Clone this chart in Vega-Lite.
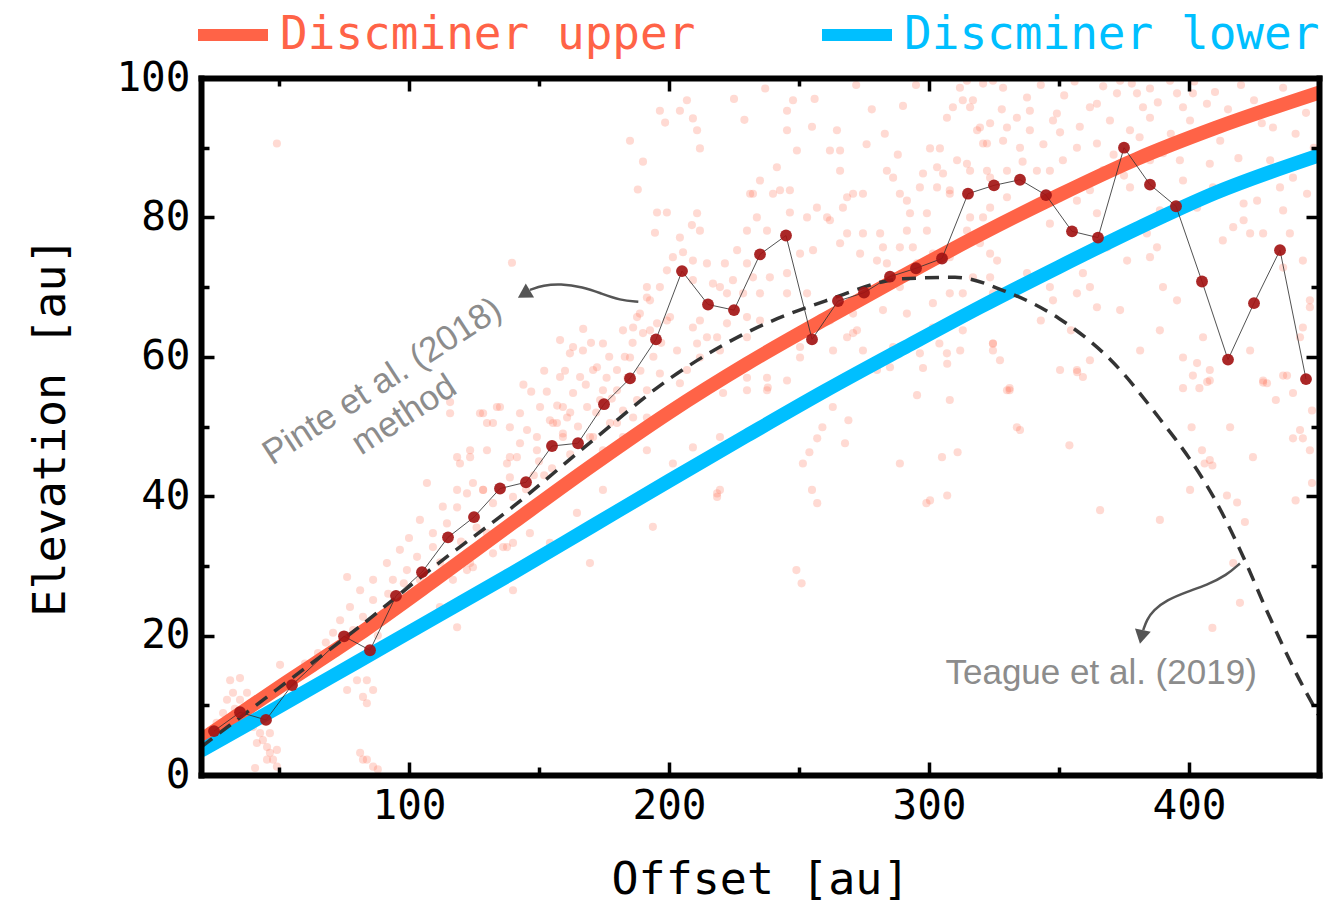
{
"$schema":"https://vega.github.io/schema/vega-lite/v6.json",
"width":1118,"height":697,
"autosize":{"type":"none"},
"padding":{"left":201,"top":78,"right":11,"bottom":131},
"background":"white",
"config":{"view":{"stroke":null},"axis":{"labelOverlap":false,"labelFlush":false,"labelBound":false,"grid":false}},
"datasets":{
"cloud":[
{"x":50.4,"y":15.8},{"x":35,"y":13.9},{"x":31.2,"y":13.6},{"x":32.3,"y":11.8},{"x":37.7,"y":11.8},{"x":30,"y":10.8},{"x":35,"y":10.8},{"x":38.8,"y":10.3},{"x":28.5,"y":8.9},{"x":40,"y":6.9},{"x":42.7,"y":6},{"x":43.8,"y":5},{"x":45.4,"y":4},{"x":46.5,"y":3.2},{"x":47.7,"y":2.2},{"x":45.4,"y":2.2},{"x":49.2,"y":1.2},{"x":41.5,"y":4.6},{"x":43.8,"y":7.9},{"x":49.2,"y":3.6},{"x":46.5,"y":6},{"x":40.8,"y":1.0},{"x":33,"y":9.5},{"x":26,"y":7.5},{"x":38,"y":8.5},
{"x":80,"y":13.6},{"x":83.8,"y":13.6},{"x":76.2,"y":12.2},{"x":86.2,"y":12.2},{"x":82.3,"y":11.2},{"x":83.8,"y":10.3},{"x":81.2,"y":3.2},{"x":83.8,"y":2.2},{"x":86.2,"y":1.2},{"x":82.3,"y":2.2},{"x":88,"y":0.8},
{"x":77.3,"y":24.1},{"x":82.3,"y":22.7},{"x":73.5,"y":22.2},{"x":70.8,"y":20.4},{"x":78.5,"y":20.8},{"x":76.2,"y":28.4},{"x":81.2,"y":26.5},{"x":86.2,"y":25.1},{"x":86.2,"y":28},{"x":90,"y":23.2},{"x":96.5,"y":24.1},{"x":101.5,"y":25.5},{"x":93.8,"y":28},{"x":91.5,"y":30.4},{"x":96.5,"y":32.3},{"x":99.2,"y":29.4},{"x":103.1,"y":31.3},{"x":104.2,"y":28},{"x":109.2,"y":28.4},{"x":109.2,"y":32.7},{"x":111.9,"y":24.1},{"x":116.9,"y":28},{"x":118.5,"y":21.2},{"x":122.3,"y":29.4},{"x":124.6,"y":29.8},{"x":104.2,"y":36.6},{"x":109.2,"y":34.7},{"x":114.6,"y":36.1},{"x":118.5,"y":38.4},{"x":122.3,"y":40.4},{"x":128.5,"y":40.9},{"x":106.9,"y":41.9},{"x":130,"y":34.7},{"x":132.3,"y":31.8},{"x":137.7,"y":32.7},{"x":140,"y":33.3},{"x":137.7,"y":29},{"x":140,"y":26.5},{"x":65,"y":17.5},{"x":60,"y":16},{"x":68,"y":19},{"x":72,"y":17.5},{"x":88,"y":20},{"x":92,"y":26},{"x":98,"y":27.5},{"x":100,"y":34},{"x":112,"y":30.5},{"x":120,"y":33.5},{"x":126,"y":35.5},{"x":113,"y":38.5},
{"x":115.8,"y":53.5},{"x":115.8,"y":51.9},{"x":118.5,"y":45.6},{"x":127.3,"y":51.9},{"x":133.8,"y":52.8},{"x":130,"y":50.5},{"x":138.8,"y":49.9},{"x":142.7,"y":51.9},{"x":150.4,"y":52.8},{"x":155.4,"y":50.5},{"x":159.2,"y":52.8},{"x":158.1,"y":62.4},{"x":163.1,"y":61.4},{"x":166.9,"y":60.9},{"x":158.1,"y":57.1},{"x":165.8,"y":57.1},{"x":172.3,"y":58.5},{"x":174.6,"y":55.2},{"x":180,"y":58.1},{"x":185,"y":59.9},{"x":187.7,"y":65.7},{"x":190,"y":63.4},{"x":149.2,"y":48.5},{"x":159.2,"y":48.5},{"x":169.6,"y":48.5},{"x":174.6,"y":46.6},{"x":177.3,"y":50.5},{"x":182.3,"y":52.3},{"x":182.3,"y":48.5},{"x":141.5,"y":45.6},{"x":123.5,"y":46.6},{"x":118.5,"y":40.9},{"x":128.5,"y":40.9},{"x":137.7,"y":44.7},
{"x":139.6,"y":73.5},{"x":161.9,"y":60.5},{"x":174.6,"y":61.9},{"x":182.3,"y":63.8},{"x":188.8,"y":66.2},{"x":191.5,"y":68.5},{"x":196.5,"y":70},{"x":199.2,"y":72.4},{"x":192.7,"y":63.8},{"x":195.4,"y":64.8},{"x":200.4,"y":65.7},{"x":209.2,"y":71},{"x":214.6,"y":73.4},{"x":219.6,"y":70},{"x":224.6,"y":71},{"x":230,"y":73.4},{"x":235,"y":69.1},{"x":230,"y":65.7},{"x":209.2,"y":64.2},{"x":214.6,"y":62.8},{"x":219.6,"y":60.9},{"x":211.9,"y":59.9},{"x":206.9,"y":58.1},{"x":204.2,"y":56.2},{"x":196.5,"y":57.6},{"x":191.5,"y":55.2},{"x":187.7,"y":53.8},{"x":180,"y":55.2},{"x":170.8,"y":58.1},{"x":173.5,"y":53.8},{"x":168.5,"y":52.8},{"x":163.1,"y":54.8},{"x":160.8,"y":51.3},{"x":154.2,"y":50.9},{"x":135,"y":52.8},{"x":128.5,"y":51.9},{"x":132.3,"y":50.5},{"x":145.4,"y":49.5},{"x":156.9,"y":50.5},{"x":159.2,"y":49},{"x":142.7,"y":47.6},{"x":138.8,"y":45.6},{"x":130,"y":46.6},{"x":123.5,"y":45.6},{"x":119.6,"y":44.7},{"x":124.6,"y":41.9},{"x":132.3,"y":39},{"x":140,"y":39.9},{"x":138.8,"y":42.7},{"x":149.2,"y":46.6},{"x":170.8,"y":48.5},{"x":180,"y":50.5},{"x":186.2,"y":51.3},{"x":191.5,"y":51.3},{"x":178.5,"y":46.6},{"x":191.5,"y":46.6},{"x":201.5,"y":44.7},{"x":209.2,"y":47},{"x":219.6,"y":48.5},{"x":230,"y":55.2},{"x":237.7,"y":57},{"x":237.7,"y":55.2},{"x":219.6,"y":40.9},{"x":218.5,"y":39.9},{"x":193.8,"y":35.6},{"x":174.6,"y":40.9},{"x":164.6,"y":37.6},{"x":146.5,"y":34.7},{"x":136.2,"y":32.7},{"x":123.5,"y":30.4},{"x":169.6,"y":30.4},{"x":154.2,"y":33.3},{"x":201.5,"y":74.3},{"x":49.2,"y":90.6},
{"x":150,"y":45},{"x":155,"y":44},{"x":162,"y":46},{"x":165,"y":50},{"x":168,"y":56},{"x":172,"y":52},{"x":176,"y":57},{"x":178,"y":54},{"x":184,"y":57},{"x":186,"y":62},{"x":189,"y":58},{"x":194,"y":60},{"x":197,"y":62},{"x":183,"y":60},{"x":177,"y":60},{"x":170,"y":62},{"x":167,"y":64},{"x":160,"y":58},{"x":153,"y":55},{"x":147,"y":55},{"x":144,"y":56},{"x":152,"y":58},{"x":157,"y":53},{"x":162,"y":52},{"x":148,"y":43},{"x":145,"y":41},{"x":152,"y":43},
{"x":196.5,"y":95.3},{"x":198.5,"y":93.6},{"x":204.2,"y":95.3},{"x":206.9,"y":96.8},{"x":209.2,"y":94.2},{"x":210.8,"y":92.5},{"x":211.9,"y":89.9},{"x":195.4,"y":80.7},{"x":199.2,"y":80.7},{"x":194.6,"y":77.8},{"x":204.2,"y":77.1},{"x":208.8,"y":78.9},{"x":210.8,"y":80.6},{"x":211.9,"y":78.1},{"x":205.4,"y":75},{"x":191.5,"y":70},{"x":192.7,"y":68.1},{"x":186.2,"y":64.2},{"x":209.2,"y":73.8},{"x":216.9,"y":70.5},{"x":221.5,"y":73.4},{"x":222.3,"y":69.1},{"x":226.2,"y":75.3},{"x":230,"y":78.1},{"x":233.8,"y":80},{"x":237.7,"y":78.1},{"x":240,"y":83.4},{"x":242.7,"y":83.9},{"x":235,"y":85.3},{"x":232.3,"y":83.4},{"x":241.5,"y":87.2},{"x":246.5,"y":83.9},{"x":246.5,"y":80.7},{"x":250.4,"y":74.8},{"x":255.4,"y":75.3},{"x":253.1,"y":80},{"x":256.9,"y":81.4},{"x":261.9,"y":79.6},{"x":266.9,"y":81.4},{"x":268.5,"y":77.7},{"x":274.6,"y":77.7},{"x":273.5,"y":74.8},{"x":281.2,"y":77.7},{"x":282.3,"y":75.7},{"x":280,"y":73.8},{"x":283.8,"y":86.7},{"x":286.2,"y":85.7},{"x":288.8,"y":83.4},{"x":291.5,"y":82.4},{"x":292.7,"y":80.6},{"x":291.5,"y":78.1},{"x":299.2,"y":80.6},{"x":299.2,"y":78.1},{"x":296.5,"y":84.3},{"x":297.7,"y":86.3},{"x":303.1,"y":84.3},{"x":303.1,"y":87.2},{"x":305.4,"y":86.3},{"x":308,"y":83.4},{"x":300.4,"y":89.9},{"x":304.2,"y":89.9},{"x":306.9,"y":94.3},{"x":309.2,"y":95.8},{"x":311.9,"y":98.6},{"x":314.6,"y":99.6},{"x":316.9,"y":96.8},{"x":319.6,"y":92.9},{"x":322.3,"y":90.6},{"x":322.3,"y":86.7},{"x":314.6,"y":87.7},{"x":265.8,"y":86.7},{"x":265.8,"y":89.6},{"x":261.9,"y":89.6},{"x":264.6,"y":92.5},{"x":249.2,"y":89.6},{"x":247.7,"y":96.8},{"x":245.4,"y":95.3},{"x":245.4,"y":92.5},{"x":231.2,"y":83.4},{"x":260.8,"y":80},{"x":268.5,"y":82.9},{"x":270.8,"y":83.4},{"x":274.6,"y":83.4},{"x":265.8,"y":76.3},{"x":283.8,"y":73.4},{"x":288.8,"y":75.7},{"x":293.8,"y":75.7},{"x":295.4,"y":73.4},{"x":301.5,"y":74.8},{"x":308,"y":74.3},{"x":311.9,"y":75.7},{"x":314.6,"y":78.1},{"x":320.8,"y":80},{"x":323.5,"y":74.8},{"x":316.9,"y":71.4},{"x":324.6,"y":69.1},{"x":308,"y":69.1},{"x":301.5,"y":67.7},{"x":301.5,"y":64.2},{"x":291.5,"y":66.2},{"x":288.8,"y":70},{"x":282.3,"y":66.7},{"x":270.8,"y":66.2},{"x":270.8,"y":63.4},{"x":261.9,"y":65.2},{"x":253.1,"y":69.1},{"x":245.4,"y":69.1},{"x":245.4,"y":72},{"x":238.8,"y":71.4},{"x":232.3,"y":71.4},{"x":228.5,"y":69.1},{"x":235,"y":65.2},{"x":230,"y":62.8},{"x":222.3,"y":64.8},{"x":218.5,"y":62.8},{"x":211.9,"y":65.2},{"x":210.8,"y":61.9},{"x":203.1,"y":60.9},{"x":199.2,"y":65.2},{"x":242.7,"y":61.4},{"x":250.4,"y":61.4},{"x":263.1,"y":60.9},{"x":286.2,"y":61.4},{"x":296.5,"y":60.5},{"x":306.9,"y":60.5},{"x":324.6,"y":60.9},{"x":319.6,"y":76.3},
{"x":249,"y":29.4},{"x":251,"y":27.5},{"x":218.5,"y":40.4},{"x":255,"y":40.9},{"x":257,"y":39},{"x":251.5,"y":44.7},{"x":254,"y":46.3},{"x":257,"y":48.3},{"x":259,"y":49.9},{"x":263,"y":52.8},{"x":269,"y":50.9},{"x":267.7,"y":47.6},{"x":288.8,"y":44.7},{"x":299,"y":39},{"x":307,"y":40.1},{"x":305,"y":45.6},{"x":311,"y":46.3},{"x":308,"y":53.8},{"x":295.4,"y":54.5},{"x":330,"y":55.2},{"x":333.8,"y":49.9},{"x":324.6,"y":61.9},{"x":312,"y":60.9},{"x":307,"y":59},{"x":297.7,"y":58.4},{"x":304,"y":61.9},{"x":285,"y":58.5},{"x":280,"y":58.1},{"x":274.6,"y":60.9},{"x":272.3,"y":63.8},{"x":268.5,"y":62.8},{"x":250.4,"y":59.9},{"x":245.4,"y":56.6},{"x":238,"y":55.6},{"x":230,"y":57},{"x":220.8,"y":54.8},
{"x":313,"y":96.8},{"x":315.8,"y":95.8},{"x":320.8,"y":99.2},{"x":324.6,"y":99.6},{"x":328.5,"y":98.6},{"x":337.7,"y":97.2},{"x":338.8,"y":95.3},{"x":333.8,"y":94.3},{"x":330,"y":92.9},{"x":323.5,"y":93.5},{"x":318.5,"y":92.5},{"x":320.8,"y":90.6},{"x":328.5,"y":91},{"x":335,"y":90},{"x":338.8,"y":92.5},{"x":347.7,"y":93.9},{"x":350.4,"y":92.2},{"x":349.2,"y":94.9},{"x":361.9,"y":95.8},{"x":364.6,"y":96.3},{"x":372.3,"y":97.8},{"x":373.5,"y":99.6},{"x":380,"y":97.8},{"x":382.3,"y":95.8},{"x":385,"y":94.3},{"x":392.7,"y":99.6},{"x":395.4,"y":97.8},{"x":397.7,"y":95.8},{"x":400.4,"y":93.9},{"x":406.9,"y":96.3},{"x":401.5,"y":97.8},{"x":377.3,"y":92.5},{"x":369.6,"y":93.9},{"x":364.6,"y":90.6},{"x":356.9,"y":90},{"x":351.5,"y":88.2},{"x":346.5,"y":86.7},{"x":341.5,"y":86.7},{"x":330,"y":86.7},{"x":323.5,"y":85.7},{"x":315.8,"y":86.7},{"x":310.8,"y":88.2},{"x":308,"y":83.9},{"x":315.8,"y":80},{"x":323.5,"y":81.4},{"x":330,"y":82.9},{"x":333.8,"y":80},{"x":341.5,"y":81.4},{"x":346.5,"y":79.1},{"x":356.9,"y":82.4},{"x":361.9,"y":83.9},{"x":364.6,"y":80.6},{"x":377.3,"y":84.3},{"x":385,"y":88.2},{"x":390,"y":89.2},{"x":396.5,"y":88.2},{"x":397.7,"y":85.3},{"x":408,"y":87.7},{"x":409.2,"y":84.3},{"x":403.1,"y":81.4},{"x":388.8,"y":81},{"x":383.8,"y":77.7},{"x":387.7,"y":75.7},{"x":385,"y":74.3},{"x":376.2,"y":73.8},{"x":368.5,"y":75.7},{"x":359.2,"y":72},{"x":361.9,"y":70},{"x":356.9,"y":69.1},{"x":364.6,"y":67.1},{"x":346.5,"y":70},{"x":347.7,"y":68.1},{"x":337.7,"y":72},{"x":326.2,"y":73.8},{"x":323.5,"y":71.4},{"x":313,"y":69.1},{"x":313,"y":63.8},{"x":324.6,"y":61.9},{"x":331,"y":55.2},{"x":356.9,"y":58.1},{"x":359.2,"y":57.1},{"x":390,"y":70},{"x":395.4,"y":68.1},{"x":413,"y":76.7},{"x":417,"y":78.6},{"x":421,"y":79.6},{"x":423.5,"y":77.7},{"x":428.5,"y":77.7},{"x":421,"y":82},{"x":426.2,"y":82.4},{"x":435,"y":84.3},{"x":438.8,"y":77.7},{"x":436.2,"y":72.8},{"x":446.5,"y":67.1},{"x":443.8,"y":64.2},{"x":442.7,"y":62.8},{"x":405.4,"y":62.8},{"x":403.1,"y":59.1},{"x":408,"y":56.6},{"x":428.5,"y":56.6},{"x":436.2,"y":57.3},{"x":443.8,"y":73.8},{"x":436.2,"y":81},{"x":445.4,"y":83.4},{"x":440,"y":85.7},{"x":431.2,"y":88.2},{"x":432.3,"y":92.9},{"x":436.2,"y":98.6},
{"x":331,"y":55.5},{"x":357,"y":57.8},{"x":397.7,"y":59.9},{"x":401.5,"y":57.3},{"x":407,"y":56.4},{"x":408,"y":58.1},{"x":404,"y":55.5},{"x":397.7,"y":55.5},{"x":401,"y":49.9},{"x":415.8,"y":49.9},{"x":405,"y":46.6},{"x":406,"y":44.7},{"x":409,"y":44.4},{"x":414.6,"y":40.1},{"x":418.5,"y":39.1},{"x":421.5,"y":36.3},{"x":417,"y":30.4},{"x":419.6,"y":24.7},{"x":409,"y":21.1},{"x":424.6,"y":45.6},{"x":430,"y":56.2},{"x":437.7,"y":57.3},{"x":440,"y":54.8},{"x":440,"y":48.3},{"x":443.8,"y":48.3},{"x":446.5,"y":46.6},{"x":447.3,"y":52.3},{"x":447.3,"y":41.9},{"x":428.5,"y":56.3},
{"x":335,"y":49.5},{"x":354,"y":47.3},{"x":365.8,"y":38},{"x":300.4,"y":39.4},{"x":388.8,"y":36.6},{"x":400.4,"y":40.9},{"x":408,"y":45.2},{"x":442.7,"y":49.5},{"x":441,"y":39.4},{"x":350.4,"y":58.1},{"x":361.9,"y":59.5},{"x":327.3,"y":59.5},{"x":343,"y":65.2},{"x":354.6,"y":63.8},{"x":381.2,"y":60.9},{"x":388.8,"y":63.8},{"x":373.5,"y":66.7},{"x":423.5,"y":60.9},{"x":446.5,"y":68.1},{"x":433.4,"y":53.8},
{"x":343,"y":99},{"x":352,"y":97.5},{"x":356,"y":99.5},{"x":367,"y":98.8},{"x":378,"y":99.2},{"x":385,"y":98.5},{"x":388,"y":96.5},{"x":402,"y":99.5},{"x":410,"y":98},{"x":415,"y":95.5},{"x":420,"y":99},{"x":425,"y":96.8},{"x":428,"y":93.5},{"x":412,"y":91},{"x":419,"y":88.5},{"x":445,"y":95},{"x":448,"y":90},{"x":441,"y":92},{"x":344,"y":90.5},{"x":358,"y":93},{"x":371,"y":89},{"x":381,"y":91.5},{"x":393,"y":92},{"x":375,"y":86},{"x":367,"y":86.8},{"x":336,"y":88},{"x":328,"y":95.5},
{"x":225,"y":97},{"x":229,"y":94},{"x":237,"y":98.5},{"x":256,"y":97},{"x":272,"y":99},{"x":278,"y":95.5},{"x":283,"y":92},{"x":290,"y":96},{"x":295,"y":99},{"x":276,"y":90.5},{"x":288,"y":89},{"x":255,"y":93},{"x":185,"y":91},{"x":190,"y":88},{"x":188,"y":84}
],
"models":[
{"x":20,"y":5.0,"s":"Discminer upper"},{"x":50,"y":12.6,"s":"Discminer upper"},{"x":80,"y":20.0,"s":"Discminer upper"},{"x":110,"y":28.0,"s":"Discminer upper"},{"x":140,"y":36.2,"s":"Discminer upper"},{"x":170,"y":44.3,"s":"Discminer upper"},{"x":200,"y":52.0,"s":"Discminer upper"},{"x":230,"y":59.0,"s":"Discminer upper"},{"x":260,"y":65.4,"s":"Discminer upper"},{"x":290,"y":71.6,"s":"Discminer upper"},{"x":320,"y":77.6,"s":"Discminer upper"},{"x":350,"y":83.2,"s":"Discminer upper"},{"x":380,"y":88.4,"s":"Discminer upper"},{"x":410,"y":92.8,"s":"Discminer upper"},{"x":450,"y":97.9,"s":"Discminer upper"},
{"x":20,"y":3.5,"s":"Discminer lower"},{"x":50,"y":9.8,"s":"Discminer lower"},{"x":80,"y":16.2,"s":"Discminer lower"},{"x":110,"y":22.6,"s":"Discminer lower"},{"x":140,"y":29.0,"s":"Discminer lower"},{"x":170,"y":35.6,"s":"Discminer lower"},{"x":200,"y":42.2,"s":"Discminer lower"},{"x":230,"y":48.7,"s":"Discminer lower"},{"x":260,"y":55.1,"s":"Discminer lower"},{"x":290,"y":61.2,"s":"Discminer lower"},{"x":320,"y":67.2,"s":"Discminer lower"},{"x":350,"y":72.9,"s":"Discminer lower"},{"x":380,"y":78.4,"s":"Discminer lower"},{"x":410,"y":83.5,"s":"Discminer lower"},{"x":450,"y":88.9,"s":"Discminer lower"}
],
"teague":[
{"x":20,"y":4.0},{"x":50,"y":12.5},{"x":80,"y":21.0},{"x":110,"y":30.0},{"x":140,"y":38.5},{"x":170,"y":47.8},{"x":200,"y":56.8},{"x":230,"y":63.5},{"x":260,"y":68.0},{"x":290,"y":71.2},{"x":310,"y":71.4},{"x":330,"y":69.3},{"x":350,"y":65.5},{"x":370,"y":59.5},{"x":390,"y":50.5},{"x":400,"y":45.5},{"x":410,"y":39.5},{"x":420,"y":32.0},{"x":430,"y":23.5},{"x":440,"y":15.5},{"x":450,"y":8.5}
],
"binned":[
{"x":25,"y":6.3},{"x":35,"y":9.0},{"x":45,"y":7.9},{"x":55,"y":12.9},{"x":75,"y":19.9},{"x":85,"y":17.9},{"x":95,"y":25.7},{"x":105,"y":29.1},{"x":115,"y":34.1},{"x":125,"y":37.0},{"x":135,"y":41.1},{"x":145,"y":42.0},{"x":155,"y":47.2},{"x":165,"y":47.6},{"x":175,"y":53.2},{"x":185,"y":56.9},{"x":195,"y":62.5},{"x":205,"y":72.3},{"x":215,"y":67.5},{"x":225,"y":66.7},{"x":235,"y":74.7},{"x":245,"y":77.4},{"x":255,"y":62.5},{"x":265,"y":68.0},{"x":275,"y":69.2},{"x":285,"y":71.5},{"x":295,"y":72.7},{"x":305,"y":74.1},{"x":315,"y":83.4},{"x":325,"y":84.6},{"x":335,"y":85.4},{"x":345,"y":83.2},{"x":355,"y":78.0},{"x":365,"y":77.1},{"x":375,"y":90.0},{"x":385,"y":84.7},{"x":395,"y":81.6},{"x":405,"y":70.8},{"x":415,"y":59.6},{"x":425,"y":67.7},{"x":435,"y":75.3},{"x":445,"y":56.8}
],
"arrows":[
{"a":1,"o":1,"x":188.2,"y":67.9},{"a":1,"o":2,"x":181.2,"y":68.1},{"a":1,"o":3,"x":173.5,"y":69.15},{"a":1,"o":4,"x":167.0,"y":70.0},{"a":1,"o":5,"x":158.1,"y":70.5},{"a":1,"o":6,"x":151.7,"y":70.25},{"a":1,"o":7,"x":146.5,"y":69.6},
{"a":2,"o":1,"x":419.6,"y":30.35},{"a":2,"o":2,"x":414.5,"y":28.67},{"a":2,"o":3,"x":406.8,"y":27.24},{"a":2,"o":4,"x":399.1,"y":26.28},{"a":2,"o":5,"x":391.4,"y":25.09},{"a":2,"o":6,"x":386.3,"y":23.66},{"a":2,"o":7,"x":383.7,"y":22.22},{"a":2,"o":8,"x":382.4,"y":20.79}
]
},
"layer":[
{"data":{"name":"cloud"},
 "mark":{"type":"point","filled":true,"color":"#FF6347","opacity":0.24,"size":66,"strokeWidth":0},
 "encoding":{
  "x":{"field":"x","type":"quantitative","scale":{"domain":[20,450],"nice":false,"zero":false},
   "axis":{"orient":"bottom","values":[100,200,300,400],"title":"Offset [au]","domain":true,"domainWidth":6,"domainColor":"black","domainCap":"square","ticks":true,"tickSize":-13,"tickWidth":3.5,"tickColor":"black","labelFont":"DejaVu Sans Mono","labelFontSize":41,"labelColor":"black","labelPadding":24,"titleFont":"DejaVu Sans Mono","titleFontSize":45,"titleFontWeight":"normal","titleColor":"black","titlePadding":31,"zindex":1}},
  "y":{"field":"y","type":"quantitative","scale":{"domain":[0,100],"nice":false,"zero":false},
   "axis":{"orient":"left","values":[0,20,40,60,80,100],"title":"Elevation [au]","domain":true,"domainWidth":6,"domainColor":"black","domainCap":"square","ticks":true,"tickSize":-13,"tickWidth":3.5,"tickColor":"black","labelFont":"DejaVu Sans Mono","labelFontSize":41,"labelColor":"black","labelPadding":24,"titleFont":"DejaVu Sans Mono","titleFontSize":45,"titleFontWeight":"normal","titleColor":"black","titlePadding":42,"zindex":1}}
 }},
{"data":{"name":"models"},
 "mark":{"type":"line","strokeWidth":14,"interpolate":"monotone","clip":true},
 "encoding":{
  "x":{"field":"x","type":"quantitative","scale":{"domain":[20,450],"nice":false,"zero":false},
   "axis":{"orient":"bottom","values":[50,150,250,350],"title":null,"labels":false,"domain":false,"ticks":true,"tickSize":-8,"tickWidth":3.5,"tickColor":"black","zindex":1}},
  "y":{"field":"y","type":"quantitative","scale":{"domain":[0,100],"nice":false,"zero":false},
   "axis":{"orient":"left","values":[10,30,50,70,90],"title":null,"labels":false,"domain":false,"ticks":true,"tickSize":-8,"tickWidth":3.5,"tickColor":"black","zindex":1}},
  "color":{"field":"s","type":"nominal","scale":{"domain":["Discminer upper","Discminer lower"],"range":["#FF6347","#00BFFF"]},
   "legend":{"orient":"none","legendX":-9,"legendY":-84,"direction":"horizontal","title":null,"padding":0,"symbolType":"stroke","symbolSize":4900,"symbolStrokeWidth":12,"labelFont":"DejaVu Sans Mono","labelFontSize":46,"labelOffset":6,"columnPadding":102,"labelLimit":0,
    "encode":{"labels":{"update":{"fill":{"signal":"datum.label === 'Discminer upper' ? '#FF6347' : '#00BFFF'"}}},
              "symbols":{"update":{"stroke":{"signal":"datum.label === 'Discminer upper' ? '#FF6A13' : '#00BFFF'"}}}}}}
 }},
{"data":{"name":"teague"},
 "mark":{"type":"line","color":"#333333","strokeWidth":3.5,"strokeDash":[14,9],"interpolate":"monotone","clip":true},
 "encoding":{
  "x":{"field":"x","type":"quantitative","scale":{"domain":[20,450],"nice":false,"zero":false},
   "axis":{"orient":"top","values":[100,200,300,400],"title":null,"labels":false,"domain":true,"domainWidth":6,"domainColor":"black","domainCap":"square","ticks":true,"tickSize":-13,"tickWidth":3.5,"tickColor":"black","zindex":1}},
  "y":{"field":"y","type":"quantitative","scale":{"domain":[0,100],"nice":false,"zero":false},
   "axis":{"orient":"right","values":[20,40,60,80],"title":null,"labels":false,"domain":true,"domainWidth":6,"domainColor":"black","domainCap":"square","ticks":true,"tickSize":-13,"tickWidth":3.5,"tickColor":"black","zindex":1}}
 }},
{"data":{"name":"binned"},
 "mark":{"type":"line","color":"#333333","strokeWidth":1,"opacity":0.85},
 "encoding":{
  "x":{"field":"x","type":"quantitative","scale":{"domain":[20,450],"nice":false,"zero":false},
   "axis":{"orient":"top","values":[50,150,250,350],"title":null,"labels":false,"domain":false,"ticks":true,"tickSize":-8,"tickWidth":3.5,"tickColor":"black","zindex":1}},
  "y":{"field":"y","type":"quantitative","scale":{"domain":[0,100],"nice":false,"zero":false},
   "axis":{"orient":"right","values":[10,30,50,70,90],"title":null,"labels":false,"domain":false,"ticks":true,"tickSize":-8,"tickWidth":3.5,"tickColor":"black","zindex":1}}
 }},
{"data":{"name":"binned"},
 "mark":{"type":"point","filled":true,"color":"#A31515","opacity":0.92,"size":140,"strokeWidth":0},
 "encoding":{
  "x":{"field":"x","type":"quantitative","scale":{"domain":[20,450],"nice":false,"zero":false},"axis":null},
  "y":{"field":"y","type":"quantitative","scale":{"domain":[0,100],"nice":false,"zero":false},"axis":null}
 }},
{"data":{"name":"arrows"},
 "mark":{"type":"line","color":"#555555","strokeWidth":2.5,"interpolate":"basis"},
 "encoding":{
  "x":{"field":"x","type":"quantitative","scale":{"domain":[20,450],"nice":false,"zero":false},"axis":null},
  "y":{"field":"y","type":"quantitative","scale":{"domain":[0,100],"nice":false,"zero":false},"axis":null},
  "detail":{"field":"a","type":"nominal"},
  "order":{"field":"o","type":"quantitative"}
 }},
{"data":{"values":[{"x":144.2,"y":69.0}]},
 "mark":{"type":"point","shape":"triangle-left","filled":true,"color":"#555555","opacity":1,"size":260,"angle":-31,"strokeWidth":0},
 "encoding":{
  "x":{"field":"x","type":"quantitative","scale":{"domain":[20,450],"nice":false,"zero":false},"axis":null},
  "y":{"field":"y","type":"quantitative","scale":{"domain":[0,100],"nice":false,"zero":false},"axis":null}
 }},
{"data":{"values":[{"x":381.7,"y":19.8}]},
 "mark":{"type":"point","shape":"triangle-down","filled":true,"color":"#555555","opacity":1,"size":260,"angle":12,"strokeWidth":0},
 "encoding":{
  "x":{"field":"x","type":"quantitative","scale":{"domain":[20,450],"nice":false,"zero":false},"axis":null},
  "y":{"field":"y","type":"quantitative","scale":{"domain":[0,100],"nice":false,"zero":false},"axis":null}
 }},
{"data":{"values":[{"x":89.7,"y":56.5,"t":["Pinte et al. (2018)","method"]}]},
 "mark":{"type":"text","font":"Liberation Sans","fontSize":35,"color":"#8C8C8C","align":"center","baseline":"middle","angle":-33,"lineHeight":40},
 "encoding":{
  "x":{"field":"x","type":"quantitative","scale":{"domain":[20,450],"nice":false,"zero":false},"axis":null},
  "y":{"field":"y","type":"quantitative","scale":{"domain":[0,100],"nice":false,"zero":false},"axis":null},
  "text":{"field":"t"}
 }},
{"data":{"values":[{"x":366.2,"y":13.1,"t":"Teague et al. (2019)"}]},
 "mark":{"type":"text","font":"Liberation Sans","fontSize":35,"color":"#8C8C8C","align":"center","baseline":"alphabetic"},
 "encoding":{
  "x":{"field":"x","type":"quantitative","scale":{"domain":[20,450],"nice":false,"zero":false},"axis":null},
  "y":{"field":"y","type":"quantitative","scale":{"domain":[0,100],"nice":false,"zero":false},"axis":null},
  "text":{"field":"t"}
 }}
],
"resolve":{"axis":{"x":"independent","y":"independent"}}
}
